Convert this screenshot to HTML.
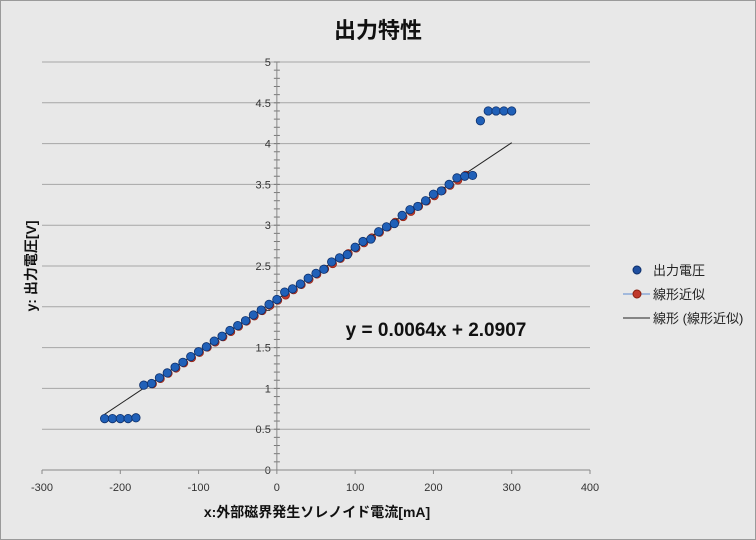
<!DOCTYPE html>
<html><head><meta charset="utf-8"><style>
body{margin:0;background:#fff}
svg{display:block;font-family:"Liberation Sans","Noto Sans CJK JP",sans-serif}
</style></head><body>
<svg id="chart" width="756" height="540" viewBox="0 0 756 540">
<rect x="0.5" y="0.5" width="755" height="539" fill="#e8e8e8" stroke="#9a9a9a"/>
<text x="378" y="38" text-anchor="middle" font-size="22" font-weight="bold" fill="#111" font-family="Liberation Sans, Noto Sans CJK JP, sans-serif">出力特性</text>
<g id="grid"></g><g id="axes"></g><g id="marks"></g>
<text x="436" y="336" text-anchor="middle" font-size="19" font-weight="bold" fill="#111">y = 0.0064x + 2.0907</text>
<text x="317" y="517" text-anchor="middle" font-size="14" font-weight="bold" fill="#111">x:外部磁界発生ソレノイド電流[mA]</text>
<text transform="translate(36,266) rotate(-90)" text-anchor="middle" font-size="14" font-weight="bold" fill="#111">y: 出力電圧[V]</text>
<g>
<circle cx="637" cy="270" r="4" fill="#1f4fa0" stroke="#0d2f6b"/>
<text x="653" y="275" font-size="13" fill="#222">出力電圧</text>
<line x1="623" y1="294" x2="650" y2="294" stroke="#5b8ad0" stroke-width="1"/>
<circle cx="637" cy="294" r="4" fill="#c0392b" stroke="#8a2010"/>
<text x="653" y="299" font-size="13" fill="#222">線形近似</text>
<line x1="623" y1="318" x2="650" y2="318" stroke="#222" stroke-width="1"/>
<text x="653" y="323" font-size="13" fill="#222">線形 (線形近似)</text>
</g>
</svg>
<script>
const xTicks=[-300,-200,-100,0,100,200,300,400];
const yTicks=[0,0.5,1,1.5,2,2.5,3,3.5,4,4.5,5];
const yTickLabels=["0","0.5","1","1.5","2","2.5","3","3.5","4","4.5","5"];
const measX=[-220,-210,-200,-190,-180,-170,-160,-150,-140,-130,-120,-110,-100,-90,-80,-70,-60,-50,-40,-30,-20,-10,0,10,20,30,40,50,60,70,80,90,100,110,120,130,140,150,160,170,180,190,200,210,220,230,240,250,260,270,280,290,300];
const measY=[0.63,0.63,0.63,0.63,0.64,1.04,1.06,1.13,1.19,1.26,1.32,1.39,1.45,1.51,1.58,1.64,1.71,1.77,1.83,1.90,1.96,2.03,2.09,2.18,2.22,2.28,2.35,2.41,2.46,2.55,2.60,2.64,2.73,2.80,2.83,2.92,2.98,3.02,3.12,3.19,3.23,3.30,3.38,3.42,3.50,3.58,3.60,3.61,4.28,4.40,4.40,4.40,4.40];
const fitX=[-160,-150,-140,-130,-120,-110,-100,-90,-80,-70,-60,-50,-40,-30,-20,-10,0,10,20,30,40,50,60,70,80,90,100,110,120,130,140,150,160,170,180,190,200,210,220,230,240];
const fitY=[1.067,1.131,1.195,1.259,1.323,1.387,1.451,1.515,1.579,1.643,1.707,1.771,1.835,1.899,1.963,2.027,2.091,2.155,2.219,2.283,2.347,2.411,2.475,2.539,2.603,2.667,2.731,2.795,2.859,2.923,2.987,3.051,3.115,3.179,3.243,3.307,3.371,3.435,3.499,3.563,3.627];
const trendSlope=0.0064, trendIntercept=2.0907, trendRange=[-220,300];
const NS="http://www.w3.org/2000/svg";
const X0=42,X1=590,XMIN=-300,XMAX=400,Y0=470,Y1=62,YMIN=0,YMAX=5;
const sx=v=>X0+(v-XMIN)/(XMAX-XMIN)*(X1-X0);
const sy=v=>Y0-(v-YMIN)/(YMAX-YMIN)*(Y0-Y1);
function mk(tag,attrs,parent){const e=document.createElementNS(NS,tag);for(const k in attrs)e.setAttribute(k,attrs[k]);parent.appendChild(e);return e;}
const grid=document.getElementById('grid'),axes=document.getElementById('axes'),marks=document.getElementById('marks');
yTicks.forEach((t,i)=>{
 if(t>0){const l=mk('line',{x1:X0,x2:X1,y1:sy(t),y2:sy(t),stroke:'#a6a6a6','stroke-width':1},grid);
 
 }
 const tx=mk('text',{x:sx(0)-6,y:sy(t)+4,'text-anchor':'end','font-size':11,fill:'#333'},axes);
 tx.textContent=yTickLabels[i];
 
 
});
for(let v=0;v<=5.0001;v+=0.1){const l=mk('line',{x1:sx(0)-3,x2:sx(0)+3,y1:sy(v),y2:sy(v),stroke:'#777'},axes);
 
 }
const xa=mk('line',{x1:X0,x2:X1,y1:Y0,y2:Y0,stroke:'#888'},axes);


const ya=mk('line',{x1:sx(0),x2:sx(0),y1:Y1,y2:Y0,stroke:'#888'},axes);


xTicks.forEach(t=>{
 const l=mk('line',{x1:sx(t),x2:sx(t),y1:Y0,y2:Y0+4,stroke:'#888'},axes);
 
 
 const tx=mk('text',{x:sx(t),y:Y0+21,'text-anchor':'middle','font-size':11,fill:'#333'},axes);
 tx.textContent=String(t);
 
 
});
fitX.forEach((x,i)=>{const c=mk('circle',{cx:sx(x)+1,cy:sy(fitY[i])+1,r:4,fill:'#c0392b',stroke:'#8a2010','stroke-width':0.6},marks);
 
 });
const tl=mk('line',{x1:sx(trendRange[0]),y1:sy(trendIntercept+trendSlope*trendRange[0]),x2:sx(trendRange[1]),y2:sy(trendIntercept+trendSlope*trendRange[1]),stroke:'#222','stroke-width':1},marks);


measX.forEach((x,i)=>{const c=mk('circle',{cx:sx(x),cy:sy(measY[i]),r:4.2,fill:'#2060b8',stroke:'#0d2f6b','stroke-width':0.8},marks);
 
 });
</script>
</body></html>
